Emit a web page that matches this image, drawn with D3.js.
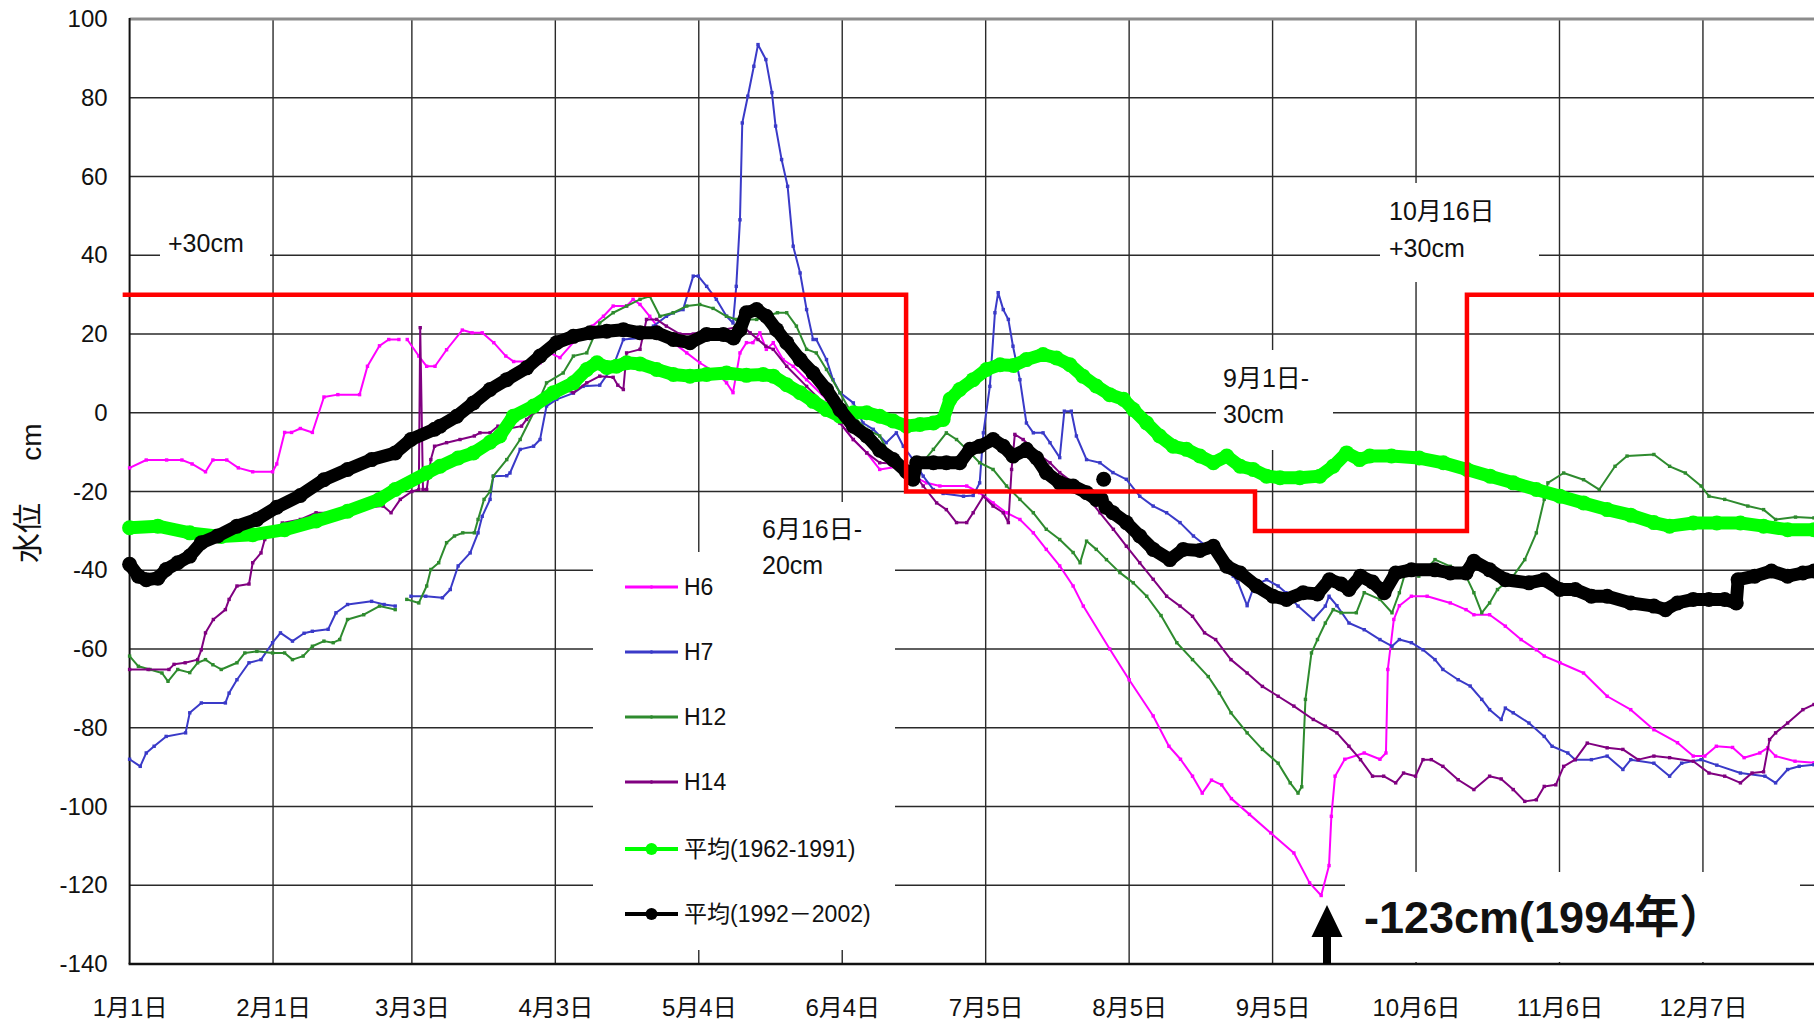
<!DOCTYPE html>
<html><head><meta charset="utf-8">
<script src="https://cdn.jsdelivr.net/npm/d3@7/dist/d3.min.js"></script>
<style>
html,body{margin:0;padding:0;background:#fff;}
svg{display:block;}
text{font-family:"Liberation Sans",Arial,"Noto Sans CJK JP",sans-serif;fill:#111;}
</style></head>
<body>
<svg id="chart" width="1814" height="1025"></svg>
<script>
// ---------- data (day-of-year index, water level cm) ----------
const tickDays = [0,31,61,92,123,154,185,216,247,278,309,340];
const tickLabels = ["1月1日","2月1日","3月3日","4月3日","5月4日","6月4日","7月5日","8月5日","9月5日","10月6日","11月6日","12月7日"];
const yTicks = [-140,-120,-100,-80,-60,-40,-20,0,20,40,60,80,100];

const ruleCurve = [[-1.5,30],[167.8,-20],[243.2,-30],[289,30],[366,30]];

const h6 = [[0,-14],[3.6,-12],[8,-12],[11.3,-12],[13.5,-13],[16.4,-15],[18,-12],[21,-12],[23.5,-14],[26.6,-15],[30.9,-15],[31.8,-13],[33.5,-5],[35,-5],[36.9,-4],[39.5,-5],[42,4],[45,4.6],[49.7,4.6],[51.4,11.8],[54,17],[56,18.6],[58.2,18.6],[59,null],[60,18.6],[62.5,14.4],[64.2,11.8],[66,11.8],[68.5,16],[71.9,21],[74,20.3],[76.2,20.3],[78.7,17.8],[81.3,14.4],[83,13],[86.4,13],[88.7,12.7],[90.8,15.2],[93,14],[96,18],[100,22],[102.4,24.5],[104.5,27.1],[107.4,27.1],[108.8,28.8],[110.3,27.5],[112.4,24.5],[114.6,21.1],[117.5,17.8],[120.4,15.2],[123.2,12.7],[126.8,10.1],[129,7.6],[130.4,5.1],[131.9,15.2],[133.3,17.8],[134.7,17.8],[136.2,20.3],[137.6,16.1],[139.1,17.8],[141.2,13.5],[143.4,11.8],[146.3,8.4],[150.6,3.4],[153.5,-2.6],[156.4,-6.8],[159.3,-10.2],[162.1,-14.4],[166.5,-13.6],[169.3,-16.1],[172.2,-17.8],[175.1,-18.6],[180.9,-18.6],[183.7,-20.3],[186.6,-22.9],[189.5,-25.4],[192.4,-27.1],[195.3,-30.5],[198.1,-34.7],[201,-38.9],[203.9,-44],[206.1,-49.1],[211.8,-60],[216,-67.8],[221.2,-77],[224.6,-84.7],[227.1,-88],[229.7,-92.3],[231.8,-96.6],[233.8,-93.3],[236,-94.5],[238.1,-98],[242,-102],[246.6,-106.7],[251.6,-111.8],[255,-119.4],[257.5,-122.6],[259.2,-115],[259.7,-102.5],[260.5,-92.3],[262.6,-88],[266.8,-86.4],[270.2,-88],[271.5,-86.4],[271.9,-65.2],[273.2,-52.5],[274.4,-49],[277,-46.6],[280.4,-46.6],[285.4,-48.3],[288.8,-50],[290.5,-51.3],[293.9,-51.3],[297.3,-54.2],[300.7,-57.6],[304,-60.2],[305.7,-61.8],[309.1,-63.5],[314.2,-66.1],[319.3,-72],[324.4,-75.4],[329.4,-80.5],[334.5,-83.8],[337.9,-87.2],[340.4,-87.2],[342.9,-84.7],[346.4,-85],[348.9,-87.6],[352.3,-86.4],[354,-85.1],[355.7,-87.2],[359.9,-88.5],[364,-88.9]];

const h7 = [[0,-88],[2.3,-89.8],[3.6,-86.4],[5.3,-84.7],[7.9,-82.2],[12.1,-81.3],[13,-76.2],[15.5,-73.7],[20.7,-73.7],[21.5,-71.2],[23.2,-67.8],[25.8,-63.5],[28.4,-62.7],[30.9,-58.4],[32.6,-55.9],[35.2,-58],[37.7,-56],[39.5,-55.5],[42.9,-55],[44.6,-50.8],[47.1,-48.7],[52.3,-47.9],[55,-48.7],[57.4,-49.1],[59,null],[60.8,-46.6],[64,-46.6],[67.6,-47],[69.3,-44.9],[71,-38.9],[73.6,-35.6],[75.3,-30.5],[76.2,-26.3],[77.9,-22],[78.6,-16.1],[81.5,-16],[82.2,-15.3],[84.4,-9.3],[87.3,-8.5],[88.7,-6.8],[90.1,1.7],[92.3,3.4],[95.9,5],[98,6.7],[101.6,7],[104.5,11.8],[106.7,18.6],[110.3,19],[113.2,22],[116,24.5],[117.5,25.4],[119.6,26.2],[121.8,34.7],[122.9,34.7],[124.7,32.1],[126.8,28.8],[129,24.5],[130.4,22.8],[131.1,32.1],[131.9,49],[132.4,73.6],[133.6,80.4],[134.9,88],[135.8,93.5],[137.5,89.7],[138.8,81.3],[139.6,72.8],[140.9,64.3],[142.2,57.5],[143.4,42.3],[144.9,35.5],[146.3,26.2],[147.7,18.6],[148.4,18.6],[150.6,13.5],[152,8.4],[153.5,5.1],[156.4,2.5],[158.5,-2.6],[160.7,-4.2],[163.5,-7.6],[165.7,-5.1],[167.2,-8.5],[169.3,-11.9],[171.5,-16.1],[173.7,-19.5],[175.8,-20.5],[180.2,-21.2],[182.3,-21],[183.7,-17.8],[184.5,-5.1],[185.9,6.7],[187,25.4],[187.7,30.5],[188.8,26.2],[189.9,23.7],[190.9,16.9],[192.4,8.4],[193.8,-2.6],[195.3,-5.1],[197.4,-5.1],[198.9,-7.6],[201,-11.4],[202,0.4],[203.5,0.4],[204.6,-5.9],[206.8,-11.9],[209.7,-12.7],[212.5,-15.2],[215.4,-16.9],[218.3,-21.2],[221.2,-23.7],[224.1,-25.4],[227,-27.9],[229.9,-31.3],[232.7,-33.9],[235.6,-37.3],[238.5,-41.5],[239.5,-43],[241.5,-49],[243,-44],[245.7,-42.4],[248.2,-44],[249.9,-45.7],[252.5,-49.1],[255.8,-52.5],[258.4,-49.1],[259.2,-46.6],[260.9,-49],[263.5,-53.4],[266.8,-55.1],[270.2,-57.6],[272.8,-59.3],[274.4,-57.6],[277,-58.4],[279.5,-60.2],[282.1,-62.7],[283.8,-65.2],[287.1,-67.8],[289.7,-69.4],[292.2,-72.8],[293.9,-75.4],[296.4,-77.9],[297.3,-75],[299,-76.2],[302.4,-78.8],[305.7,-82.2],[307.4,-84.7],[310.8,-86.4],[312.4,-88.1],[315.9,-88.1],[319.3,-87.2],[322.7,-90.6],[324.4,-88.1],[329.4,-89],[332.8,-92.3],[335.4,-89],[339.6,-88.1],[343,-89.5],[348.1,-91.5],[353.4,-92.3],[355.7,-94],[358.3,-90.6],[360.8,-89.8],[364,-89.4]];

const h12 = [[0,-61.8],[1.9,-64.4],[4.4,-65.2],[7,-66.1],[8.3,-68.2],[10.4,-65.2],[13,-66],[14.7,-63.5],[16.4,-62.7],[18,-64],[19.8,-65.2],[23.2,-63.5],[24.9,-61],[27.5,-60.6],[30.9,-61],[33.5,-61],[35.2,-62.7],[37.5,-61.8],[39.5,-59.3],[42,-58],[44,-58.4],[45.4,-57.6],[47.1,-52.5],[50.6,-51.3],[54,-49.1],[57.4,-50],[59,null],[59.9,-47.4],[62.5,-48.3],[64.2,-44],[65.1,-39.8],[66.8,-38.1],[68.5,-33],[70.2,-31.3],[72,-30.5],[74.5,-30.5],[75.3,-27.1],[76.6,-22],[77.9,-20],[78.6,-16.1],[81.5,-11.9],[84.4,-6.8],[87.3,0],[90.1,7.6],[93.7,10.1],[95.9,14.4],[98.8,15.2],[101.6,22.8],[104.5,25.4],[107.4,27.1],[110.3,28.8],[112.4,29.6],[114.6,24.5],[117.5,25.4],[120.4,27.1],[123.2,27.5],[126.1,26.5],[129,24.5],[131.1,23.7],[135.5,23.7],[137.6,24.5],[140,25.4],[142,25.4],[144.1,22],[146.3,16.1],[148.4,15.2],[150.6,11],[153.5,5.1],[156.4,-0.9],[159.3,-4.2],[162.1,-5.9],[164.8,-11.9],[168.2,-15.3],[170.1,-14.4],[173.7,-9.3],[176.5,-5.1],[178.7,-6.8],[180.9,-9.3],[183.7,-12.7],[186.6,-14.4],[189.5,-18.6],[192.4,-22],[195.3,-25.4],[198.1,-29.6],[201,-32.2],[203.9,-35.5],[205.4,-38.1],[206.8,-32.6],[208.9,-34.7],[211.1,-37.3],[214,-40.6],[216.9,-43.2],[219.8,-46.6],[222.9,-51.5],[226.3,-58.4],[229.7,-62.7],[233.1,-67],[235.5,-71.2],[238,-76.2],[241.5,-81.3],[244.8,-85.5],[248.2,-89],[250.8,-94],[252.5,-96.6],[253.3,-95],[254.1,-72.8],[255.4,-61],[256.7,-57.6],[258.4,-53.4],[260.1,-50],[261.8,-50.8],[265.1,-50.8],[266.8,-45.7],[270.2,-47.4],[272.8,-50.8],[274.4,-45.7],[276.1,-39],[278.6,-41.5],[282.1,-37.3],[285.4,-39],[288.8,-41.5],[290.5,-45.7],[292.2,-50.8],[293.9,-48.3],[295.6,-44.9],[299,-41.5],[301.5,-37.3],[304,-30.5],[305.7,-22],[306.5,-17.8],[309.9,-15.3],[314.2,-17],[317.6,-19.5],[321,-13.6],[323.6,-11],[329.4,-10.6],[332.8,-13.6],[336.2,-15.3],[339.6,-18.6],[341.3,-21.2],[344.7,-22],[349.7,-23.7],[353.1,-24.6],[355.7,-27.1],[360,-26.5],[364,-26.7]];

const h14 = [[0,-65.2],[4,-65.2],[8.5,-65.2],[9.6,-63.9],[12,-63.5],[14.7,-62.7],[15.5,-60.2],[16.4,-55.9],[18.1,-52.5],[20.7,-50],[21.5,-47.4],[23.2,-44],[25.8,-43.5],[26.6,-38.1],[28.4,-35.6],[29.2,-32.2],[30.9,-30.5],[33,-28],[36.9,-27.1],[40.3,-25.4],[44,-25.4],[48,-25],[52,-24],[54.8,-23.7],[56.5,-25.4],[58.5,-22],[61,-20],[62.5,-19.5],[62.8,21.6],[63.4,-19.5],[64.2,-19.5],[65.1,-11.9],[65.9,-8.5],[68.5,-7.6],[71.4,-6.8],[74.5,-5.9],[75.7,-5.1],[77.9,-5.1],[79.6,-3.4],[82,-4],[84.7,-3.4],[85.8,-1.7],[88.7,1.7],[90.8,4.2],[93.7,5.9],[95.9,5.1],[98.8,7.6],[101.6,9.3],[104.5,9],[105.5,7],[106.7,5.9],[107.4,15.2],[110.3,16.1],[111.7,23.7],[113.9,23.7],[116,22],[118.9,20],[121.8,20],[124.7,21],[128.3,21.1],[132.4,22],[134.1,20.3],[135.8,18.6],[137.5,16.9],[139.1,16.1],[142,11.8],[146.3,6.7],[150.6,1.7],[153.5,-2.6],[156.4,-6.8],[159.3,-10.2],[162.1,-12.7],[166.5,-13],[169.3,-15.2],[171.5,-18.6],[174.4,-22.9],[176.5,-24.6],[178.7,-27.9],[180.9,-27.9],[182.3,-25.4],[184.5,-21.2],[186.6,-23.7],[188.8,-25.4],[189.9,-27.9],[190.6,-14.4],[191.3,-5.5],[193.1,-6.8],[196,-10.2],[198.9,-12.7],[201,-15.2],[203.9,-17.8],[206.8,-21.2],[209.7,-25.4],[212.6,-29.6],[215.4,-33.9],[218.3,-38.1],[221.2,-42.3],[224.1,-46.6],[227,-49.1],[229.7,-51.7],[232.3,-55.9],[234.7,-57.6],[238,-62.7],[241.5,-66.1],[244.8,-69.5],[248.2,-72],[251.6,-74.5],[255.8,-77.9],[258.4,-79.6],[260.9,-81.3],[263.5,-84.7],[266,-88.1],[268.6,-92.3],[271,-92.3],[273.6,-94],[275.3,-91.5],[277.9,-92.3],[279.5,-88.1],[281.3,-88.1],[283.8,-89.8],[287.1,-93.2],[290.5,-95.7],[293.9,-92.3],[296.4,-93],[299,-95.7],[301.5,-98.7],[304,-98.3],[305.7,-94.9],[308.2,-94.5],[309.9,-89.8],[312.4,-88.1],[315,-83.9],[319.3,-85.1],[322.7,-85.5],[326,-88.1],[329.4,-87.2],[332.8,-87.6],[337.9,-88.5],[341.3,-91.5],[344.7,-92.3],[348.1,-94],[350.6,-91.5],[353.1,-91.2],[354.4,-83],[355.7,-81.3],[358.3,-78.8],[361.6,-75.4],[364,-74.1]];

const avg6291 = [[0,-29.2],[6.1,-28.8],[13,-30.5],[19.8,-31.4],[26.6,-31],[33.5,-29.7],[40.3,-27.5],[47.1,-25],[54,-22],[57.4,-19.5],[64.2,-15.3],[67.1,-13.6],[71,-11.5],[74.3,-10.2],[77.9,-7.5],[80,-5.9],[82.9,-0.9],[87.3,1.7],[91.6,5.1],[95.9,7.6],[98.8,11],[101,12.7],[103.1,11.5],[105.2,11.8],[107.4,12.7],[110.3,12.4],[113.9,11],[117.5,9.7],[121.1,9.3],[124.7,9.7],[129,10.1],[133.3,9.5],[136.9,9.7],[139.1,9.3],[142,7.1],[144.9,5.1],[147.7,2.9],[150.6,0.8],[153.5,-0.9],[156.4,0],[159.3,0],[162.1,-0.9],[165,-2.1],[167.9,-3.4],[170.8,-3],[173.7,-2.6],[175.8,-1.7],[177.3,3.4],[179.4,5.9],[182.3,8.4],[185.2,11],[188.1,12.2],[191,12],[193.8,13.5],[197.4,14.8],[200.3,13.9],[203.2,12.2],[206,9.3],[208.9,6.8],[211.8,4.6],[214.8,3.4],[216.9,0.8],[219.8,-2.6],[222.6,-5.9],[225.5,-8.5],[228.4,-9.3],[231.3,-11],[234.2,-12.7],[237.1,-11],[240,-13.6],[242.8,-14.4],[245.7,-16.1],[248.6,-16.5],[252.9,-16.5],[257.2,-16.1],[260.1,-13.6],[263,-10.2],[265.8,-11.9],[268,-11],[272.7,-11],[278.7,-11.5],[283.9,-12.7],[289,-14.4],[294,-16.1],[299,-17.8],[304,-19.5],[309.1,-21.2],[314.2,-22.9],[319.3,-24.6],[324.4,-26],[329.4,-27.9],[332.8,-28.8],[337.9,-28],[343,-28],[348.1,-28],[353.1,-28.8],[358.3,-29.7],[364,-29.7]];

const avg9202 = [[0,-38.5],[1.9,-41.5],[3.6,-42.4],[6.1,-42],[7.9,-39.8],[10.4,-38.1],[13,-36.4],[15.5,-33],[19,-31.3],[23.2,-28.8],[27.5,-27.1],[31.8,-24],[36.9,-21],[42,-17],[47.1,-14.4],[52.3,-11.9],[57.4,-10.2],[60.8,-6.8],[65.9,-4.2],[67.1,-3.4],[70.7,-0.9],[74.3,2.5],[77.9,5.9],[81.5,8.4],[85.8,11.4],[88.7,14.4],[92.3,17.8],[95.9,19.4],[99.5,20.3],[103.1,20.7],[106.7,21.1],[110.3,20.3],[113.9,20.3],[117.5,18.6],[121.1,17.8],[124.7,19.9],[128.3,19.9],[130.5,19],[131.9,21.1],[133.3,25.4],[135.5,26.2],[137.6,24.5],[139.8,21.1],[142,17.8],[144.9,13.5],[147.7,10.1],[150.6,5.9],[153.5,0.8],[156.4,-3.4],[159.3,-5.9],[162.1,-9.5],[165,-11.9],[167.9,-15],[169.3,-16.9],[170.1,-12.7],[173.7,-12.7],[176.5,-12.7],[179.4,-12.7],[181.6,-9.3],[183.7,-8.5],[186.6,-6.8],[188.8,-8.5],[190.9,-11],[193.8,-9.3],[196,-11.5],[198.1,-15.2],[201,-17.8],[203.9,-18.6],[206.8,-20.3],[208.9,-22],[210,-22],[210.3,null],[210.5,-16.9],[210.7,null],[211,-24],[212.5,-25.4],[215.4,-27.9],[218.3,-31.3],[221.2,-34.7],[224.8,-37.3],[227.7,-34.7],[231.3,-35],[234.2,-33.9],[237.1,-39],[240,-40.7],[243.5,-44],[247.1,-46.6],[250,-47.4],[253.6,-45.7],[256.7,-46],[259.3,-42.4],[261.8,-43.5],[263.5,-44.9],[266,-41.5],[268.6,-43],[271.1,-45.7],[273.6,-40.7],[277,-39.9],[282.1,-39.9],[285.4,-40.7],[288.8,-40.7],[290.5,-37.7],[293.9,-39.9],[297.3,-42.4],[302.4,-43.2],[305.7,-42.4],[309.1,-44.9],[312.4,-44.9],[315.9,-46.6],[319.3,-46.6],[324.4,-48.3],[329.4,-49.1],[331.9,-50],[334.5,-48.3],[337.9,-47.4],[341.3,-47.4],[344.7,-47.4],[347.2,-48.3],[347.6,-42.4],[351.2,-41.5],[354.8,-40.2],[358.3,-41.5],[361.6,-40.7],[364,-40.2]];

const thinSeries = [
  {name:"H6", color:"#ff00ff", data:h6},
  {name:"H7", color:"#3a3ac8", data:h7},
  {name:"H12", color:"#2e8b2e", data:h12},
  {name:"H14", color:"#800080", data:h14}
];
const avgSeries = [
  {name:"平均(1962-1991)", color:"#00ff00", data:avg6291},
  {name:"平均(1992－2002)", color:"#000000", data:avg9202}
];

// ---------- scales ----------
const svg = d3.select("#chart");
const x = d3.scaleLinear().domain([0,364]).range([129.6,1814]);
const y = d3.scaleLinear().domain([-140,100]).range([964,19]);
const X0 = x(0), XR = 1814, YT = y(100), YB = y(-140);

svg.append("rect").attr("width",1814).attr("height",1025).attr("fill","#fff");

// grid
const grid = svg.append("g");
grid.selectAll(".hg").data(yTicks.filter(v=>v>-140 && v<100)).enter().append("line")
  .attr("x1",X0).attr("x2",XR).attr("y1",d=>y(d)).attr("y2",d=>y(d))
  .attr("stroke","#2a2a2a").attr("stroke-width",1.4);
grid.selectAll(".vg").data(tickDays.slice(1)).enter().append("line")
  .attr("x1",d=>x(d)).attr("x2",d=>x(d)).attr("y1",YT).attr("y2",YB)
  .attr("stroke","#2a2a2a").attr("stroke-width",1.4);

// white annotation boxes (hide grid)
const boxes = [
  [160,228,110,34],
  [1380,183,159,99],
  [1216,350,117,100],
  [745,502,150,98],
  [593,552,302,398],
  [1345,872,455,90]
];
svg.append("g").selectAll("rect").data(boxes).enter().append("rect")
  .attr("x",d=>d[0]).attr("y",d=>d[1]).attr("width",d=>d[2]).attr("height",d=>d[3]).attr("fill","#fff");

// axes frame
svg.append("line").attr("x1",X0).attr("x2",XR).attr("y1",YT).attr("y2",YT).attr("stroke","#8c8c8c").attr("stroke-width",3);
svg.append("line").attr("x1",X0).attr("x2",X0).attr("y1",YT-1).attr("y2",YB).attr("stroke","#111").attr("stroke-width",2);
svg.append("line").attr("x1",X0-1).attr("x2",XR).attr("y1",YB).attr("y2",YB).attr("stroke","#111").attr("stroke-width",2.5);

// axis labels through d3 axes
const yAxis = svg.append("g").attr("transform",`translate(${X0},0)`)
  .call(d3.axisLeft(y).tickValues(yTicks).tickSize(0).tickPadding(22).tickFormat(d=>String(d)));
yAxis.select(".domain").remove();
yAxis.selectAll("text").attr("font-size",24).attr("font-family",'"Liberation Sans",Arial,sans-serif').attr("fill","#111");

const xAxis = svg.append("g").attr("transform",`translate(0,${YB})`)
  .call(d3.axisBottom(x).tickValues(tickDays).tickSize(0).tickPadding(35).tickFormat((d,i)=>tickLabels[i]));
xAxis.select(".domain").remove();
xAxis.selectAll("text").attr("font-size",24).attr("font-family",'"Liberation Sans","Noto Sans CJK JP",sans-serif').attr("fill","#111");

// y title
svg.append("text").attr("transform","translate(27,533) rotate(-90)").attr("text-anchor","middle")
  .attr("dominant-baseline","central").attr("font-size",30).attr("font-family",'"Noto Sans CJK JP",sans-serif').text("水位");
svg.append("text").attr("transform","translate(31,442) rotate(-90)").attr("text-anchor","middle")
  .attr("dominant-baseline","central").attr("font-size",28).text("cm");

// ---------- series ----------
const line = d3.line().defined(d=>d[1]!==null).x(d=>x(d[0])).y(d=>y(d[1]));
const plot = svg.append("g");

thinSeries.forEach(s=>{
  plot.append("path").attr("d",line(s.data)).attr("fill","none").attr("stroke",s.color)
    .attr("stroke-width",2).attr("stroke-linejoin","round");
  plot.append("g").selectAll("rect").data(s.data.filter(d=>d[1]!==null)).enter().append("rect")
    .attr("x",d=>x(d[0])-1.7).attr("y",d=>y(d[1])-1.7).attr("width",3.4).attr("height",3.4).attr("fill",s.color);
});

avgSeries.forEach(s=>{
  plot.append("path").attr("d",line(s.data)).attr("fill","none").attr("stroke",s.color)
    .attr("stroke-width",13).attr("stroke-linejoin","round").attr("stroke-linecap","round");
  plot.append("g").selectAll("circle").data(s.data.filter(d=>d[1]!==null)).enter().append("circle")
    .attr("cx",d=>x(d[0])).attr("cy",d=>y(d[1])).attr("r",7.5).attr("fill",s.color);
});

// rule curve (red)
plot.append("path").attr("d",d3.line().curve(d3.curveStepAfter).x(d=>x(d[0])).y(d=>y(d[1]))(ruleCurve))
  .attr("fill","none").attr("stroke","#ff0000").attr("stroke-width",4.5);

// ---------- annotations ----------
const ann = svg.append("g").attr("font-size",25);
ann.append("text").attr("x",168).attr("y",252).text("+30cm");
ann.append("text").attr("x",1389).attr("y",220).text("10月16日");
ann.append("text").attr("x",1389).attr("y",257).text("+30cm");
ann.append("text").attr("x",1223).attr("y",387).text("9月1日-");
ann.append("text").attr("x",1223).attr("y",423).text("30cm");
ann.append("text").attr("x",762).attr("y",538).text("6月16日-");
ann.append("text").attr("x",762).attr("y",574).text("20cm");

svg.append("text").attr("x",1364).attr("y",933).attr("font-size",45).attr("font-weight","bold")
  .text("-123cm(1994年）");
// arrow
const ax = 1327;
svg.append("path").attr("d",`M${ax},905 L${ax+15.5},937 L${ax+4},937 L${ax+4},${YB} L${ax-4},${YB} L${ax-4},937 L${ax-15.5},937 Z`).attr("fill","#000");

// ---------- legend ----------
const legRows = [587,652,717,782,849,914];
const leg = svg.append("g");
thinSeries.concat(avgSeries).forEach((s,i)=>{
  const g = leg.append("g").attr("transform",`translate(0,${legRows[i]})`);
  const isAvg = i>=4;
  g.append("line").attr("x1",625).attr("x2",678).attr("y1",0).attr("y2",0)
    .attr("stroke",s.color).attr("stroke-width",isAvg?4:3);
  g.append("circle").attr("cx",651.5).attr("cy",0).attr("r",isAvg?6:1.8).attr("fill",s.color);
  g.append("text").attr("x",684).attr("y",0).attr("dominant-baseline","central")
    .attr("font-size",23).text(s.name);
});
</script>
</body></html>
